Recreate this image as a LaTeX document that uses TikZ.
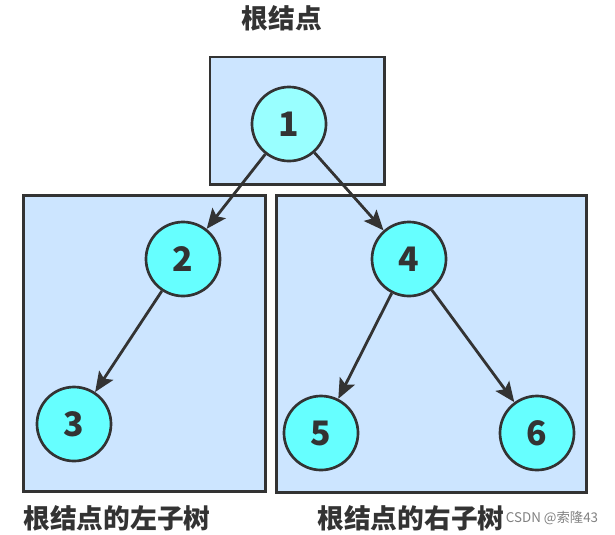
\documentclass[tikz,border=0pt]{standalone}
\usepackage{fontspec}
\usepackage{tikz}
\usetikzlibrary{arrows.meta}
\newfontfamily\cjk{Noto Sans CJK SC}
\definecolor{edge}{HTML}{333333}
\definecolor{boxfill}{HTML}{CCE5FF}
\definecolor{nodefill}{HTML}{66FFFF}
\definecolor{rootfill}{HTML}{99FFFF}
\tikzset{
treenode/.style={shape=circle, minimum size=1.85cm, inner sep=0, draw=edge, line width=1.9pt, fill=nodefill, text=edge, font=\cjk\bfseries\fontsize{24}{24}\selectfont}, rootnode/.style={treenode, fill=rootfill}, subtree/.style={rectangle, draw=edge, line width=2.1pt, fill=boxfill, inner sep=0}, caption/.style={text=edge, inner sep=0, font=\cjk\bfseries\fontsize{19}{19}\selectfont}, link/.style={draw=edge, line width=2pt, -{Stealth[length=0.5cm, width=0.42cm, inset=0.1cm]}}}

\begin{document}
\begin{tikzpicture}[x=0.025cm, y=-0.025cm]
\useasboundingbox (0,0) rectangle (615,534);
\node [subtree, minimum width=4.35cm, minimum height=3.175cm] at (297,120.5) (box-root) {};
\node [subtree, minimum width=6.05cm, minimum height=7.375cm] at (144.5,343.5) (box-left) {};
\node [subtree, minimum width=7.725cm, minimum height=7.4cm] at (431.5,344) (box-right) {};

\node [rootnode] at (289,124) (n-1) {1};
\foreach \lab/\px/\py in {2/183/259, 3/74/424, 4/409/259, 5/321/433, 6/537/433}{
      \node [treenode] at (\px,\py) (n-\lab) {\lab};
}
\foreach \a/\b in {1/2, 2/3, 1/4, 4/5, 4/6}{
      \draw [link] (n-\a) -- (n-\b);
}

\node [caption] at (282,18) (t-root) {根结点};
\node [caption] at (117,518) (t-left) {根结点的左子树};
\node [caption] at (411,518) (t-right) {根结点的右子树};
\node [text=gray, font=\cjk\fontsize{9.5}{9.5}\selectfont] at (552,518) (wm) {CSDN @索隆43};
\end{tikzpicture}
\end{document}
